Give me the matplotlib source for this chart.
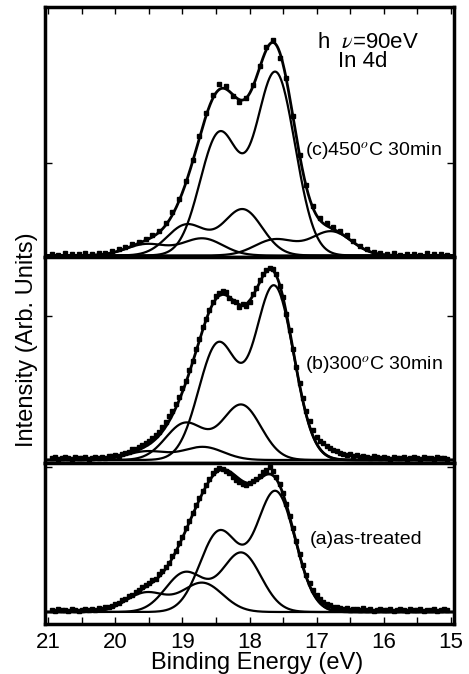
import numpy as np
import matplotlib
matplotlib.use("Agg")
import matplotlib.pyplot as plt

plt.rcParams['font.family'] = ['Liberation Sans', 'DejaVu Sans']
plt.rcParams['mathtext.fontset'] = 'stix'

# In 4d doublet fit components: 4d5/2 position (eV), height (arb.), gaussian sigma (eV)
SPLIT = 0.84
RATIO = 0.667

c_pos = [17.61, 18.10, 18.70, 16.78]
c_amp = [182, 46, 17, 24]
c_wid = [0.29, 0.29, 0.30, 0.30]

b_pos = [17.63, 18.12, 18.69]
b_amp = [173, 55, 13]
b_wid = [0.29, 0.29, 0.30]

a_pos = [17.61, 18.12, 18.70]
a_amp = [120, 59, 29]
a_wid = [0.29, 0.29, 0.30]

# measured spectra (arb. units), energies from 20.95 down to 15.05 eV
c_data = [2, 1, 3, 2, 2, 3, 2, 3, 3, 5,
          7, 9, 12, 14, 17, 21, 25, 33, 44, 57,
          75, 96, 120, 143, 161, 172, 170, 160, 154, 158,
          171, 190, 209, 216, 198, 178, 140, 101, 71, 50,
          38, 33, 29, 25, 21, 15, 10, 7, 4, 3,
          2, 3, 1, 2, 2, 1, 3, 2, 2, 1]

b_data = [2, 3, 1, 2, 3, 2, 1, 3, 2, 2, 3, 1, 2, 3, 2,
          3, 2, 4, 4, 5, 4, 6, 7, 8, 11, 11, 13, 15, 17, 19,
          22, 25, 28, 33, 38, 44, 49, 56, 63, 72, 79, 90, 99, 111, 121,
          133, 141, 150, 158, 164, 167, 169, 168, 162, 159, 158, 153, 156, 154, 158,
          166, 172, 180, 186, 190, 192, 191, 186, 174, 163, 146, 130, 111, 93, 77,
          62, 49, 39, 30, 23, 19, 17, 14, 12, 10, 9, 7,
          6, 5, 6, 4, 5, 3, 4, 3, 2, 4, 3, 2, 3, 2, 1, 3,
          2, 2, 3, 1, 2, 3, 2, 1, 3, 2, 2, 1, 3, 2, 2, 1]

a_data = [2, 1, 3, 2, 2, 1, 3, 2, 1, 2, 3, 2,
          3, 2, 4, 3, 5, 5, 6, 8, 9, 12, 13, 16, 17, 20, 22, 25, 27, 29,
          32, 33, 38, 41, 45, 49, 56, 61, 69, 75, 84, 91, 99, 107, 114,
          121, 127, 133, 139, 142, 144, 143, 141, 139, 135, 132, 130, 128, 127, 129,
          131, 133, 136, 140, 142, 145, 141, 135, 128, 119, 108, 96, 84, 71, 58,
          47, 37, 29, 22, 17, 13, 10, 8, 7, 5, 5, 4,
          3, 4, 2, 3, 3, 2, 4, 2, 3, 1, 2, 3, 2, 2, 3, 1,
          2, 3, 2, 1, 3, 2, 2, 3, 1, 2, 2, 3, 1, 2, 3, 2]

panel_text = ['(c)450$^o$C 30min', '(b)300$^o$C 30min', '(a)as-treated']
xticks = [21, 20, 19, 18, 17, 16, 15]


def doublet(e, p, h, s):
    g1 = h * np.exp(-(e - p) ** 2 / (2 * s * s))
    g2 = RATIO * h * np.exp(-(e - p - SPLIT) ** 2 / (2 * s * s))
    return g1 + g2


W, H = 469, 674
fig = plt.figure(figsize=(W / 100, H / 100), dpi=100)

# panel boxes in pixels (top, bottom)
boxes = [(7, 257), (257, 463), (463, 624)]
ylims = [(-1.5, 248.5), (-3, 203), (-12, 149)]
ytick = [93, 144, 145]
panels = [(c_pos, c_amp, c_wid, c_data), (b_pos, b_amp, b_wid, b_data),
          (a_pos, a_amp, a_wid, a_data)]

E = np.linspace(21.05, 14.95, 900)
for i, ((top, bot), (pos, amp, wid, data)) in enumerate(zip(boxes, panels)):
    ax = fig.add_axes([45 / W, 1 - bot / H, 409 / W, (bot - top) / H])
    env = np.zeros_like(E)
    for p, h, s in zip(pos, amp, wid):
        y = doublet(E, p, h, s)
        env += y
        ax.plot(E, y, color='black', lw=1.6)
    ax.plot(E, env, color='black', lw=2.0)

    ed = np.linspace(20.95, 15.05, len(data))
    ax.plot(ed, data, ls='none', marker='s', ms=2.2, color='black')

    ax.set_xlim(21.05, 14.95)
    ax.set_ylim(*ylims[i])
    ax.set_yticks([ytick[i]])
    ax.set_yticklabels([])
    ax.tick_params(axis='y', direction='in', left=True, right=True, length=5, width=1)
    ax.set_xticks(np.arange(15, 21.01, 0.5))
    ax.tick_params(axis='x', direction='in', length=5, width=1,
                   top=(i == 0), bottom=(i == 2), labelbottom=(i == 2), labelsize=16, pad=6)
    if i == 2:
        ax.set_xticklabels([str(int(t)) if t in xticks else '' for t in np.arange(15, 21.01, 0.5)])
    for sp in ax.spines.values():
        sp.set_linewidth(2.5)

fig.text(317 / W, 1 - 48 / H, 'h  $\\nu$=90eV', fontsize=16, ha='left', va='baseline')
fig.text(338 / W, 1 - 67 / H, 'In 4d', fontsize=16, ha='left', va='baseline')
fig.text(305 / W, 1 - 151 / H, panel_text[0], fontsize=14, ha='left', va='center')
fig.text(305 / W, 1 - 365 / H, panel_text[1], fontsize=14, ha='left', va='center')
fig.text(310 / W, 1 - 539 / H, panel_text[2], fontsize=14, ha='left', va='center')

fig.text(257 / W, 1 - 669 / H, 'Binding Energy (eV)', fontsize=17, ha='center', va='baseline')
fig.text(27 / W, 1 - 340 / H, 'Intensity (Arb. Units)', fontsize=17, ha='center', va='center',
         rotation=90)

fig.savefig('out.png', dpi=100)
